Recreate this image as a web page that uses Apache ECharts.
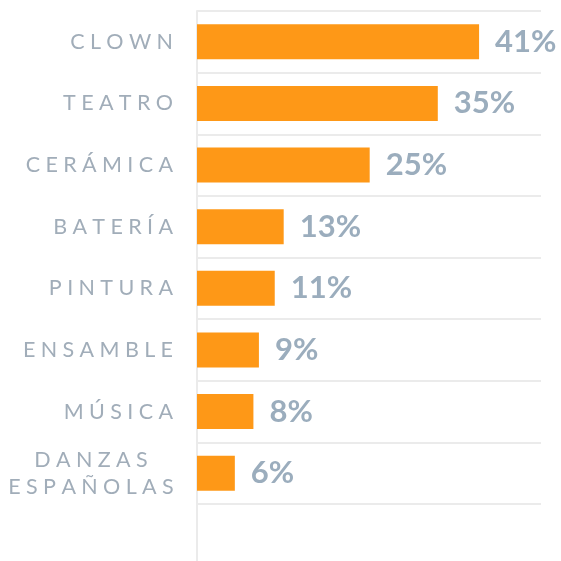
<!DOCTYPE html>
<html lang="es">
  <head>
    <meta charset="UTF-8" />
    <title>Talleres</title>
    <script src="https://cdn.jsdelivr.net/npm/echarts@6/dist/echarts.min.js"></script>
    <style>
      html, body { margin: 0; padding: 0; background: #fff; }
      #main { width: 561px; height: 561px; }
    </style>
  </head>
  <body>
    <div id="main"></div>
    <script type="text/javascript">
      // datos (largo de barra; la etiqueta va redondeada)
      var categories = ["CLOWN", "TEATRO", "CERÁMICA", "BATERÍA", "PINTURA", "ENSAMBLE", "MÚSICA", "DANZAS ESPAÑOLAS"];
      var values = [41, 35, 25.1, 12.6, 11.3, 9, 8.2, 5.5];

      var SP = "\u2005"; // espacio entre letras (1/4 em)

      function spaced(s) {
        return s.split("").join(SP);
      }

      var labelColor = "#a1adb9";
      var lineColor = "#ebebeb";

      var myChart = echarts.init(document.getElementById("main"));

      var option = {
        animation: false,
        grid: [
          { left: 197, right: 20, top: 11, bottom: 57 },
          // solo para que el eje vertical llegue hasta abajo
          { left: 197, right: 20, top: 11, bottom: 0 },
        ],
        xAxis: [
          { type: "value", min: 0, max: 50, show: false, gridIndex: 0 },
          { type: "value", min: 0, max: 50, show: false, gridIndex: 1 },
        ],
        yAxis: [
          {
            type: "category",
            gridIndex: 0,
            inverse: true,
            data: categories,
            axisLine: { show: false },
            axisTick: { show: false },
            splitLine: { show: true, lineStyle: { color: lineColor, width: 2 } },
            axisLabel: {
              margin: 24,
              fontFamily: "Lato",
              fontSize: 21.5,
              color: labelColor,
              lineHeight: 27,
              formatter: function (v) {
                if (v.indexOf(" ") > 0) {
                  return v.split(" ").map(function (p) { return "{c|" + spaced(p) + "}"; }).join("\n");
                }
                return spaced(v);
              },
              rich: {
                c: {
                  width: 164,
                  align: "center",
                  fontFamily: "Lato",
                  fontSize: 21.5,
                  color: labelColor,
                  lineHeight: 27,
                },
              },
            },
          },
          {
            type: "value",
            gridIndex: 1,
            axisLine: { show: true, lineStyle: { color: lineColor, width: 2 } },
            axisTick: { show: false },
            axisLabel: { show: false },
            splitLine: { show: false },
          },
        ],
        series: [
          {
            type: "bar",
            data: values,
            barWidth: 35,
            itemStyle: { color: "#fe9817" },
            label: {
              show: true,
              position: "right",
              distance: 16,
              fontFamily: "Lato",
              fontWeight: "bold",
              fontSize: 31,
              color: "#9badbd",
              formatter: function (p) {
                return Math.round(p.value) + "%";
              },
            },
          },
        ],
      };

      myChart.setOption(option);
    </script>
  </body>
</html>
